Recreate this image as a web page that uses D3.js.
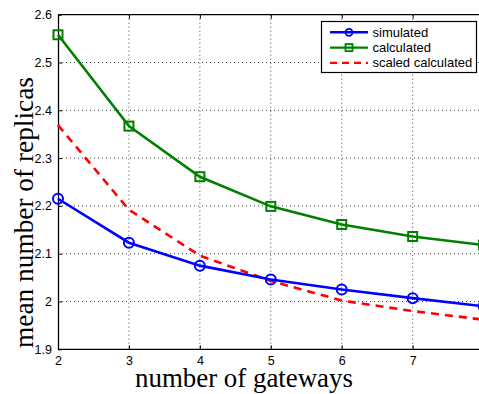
<!DOCTYPE html>
<html>
<head>
<meta charset="utf-8">
<script src="https://cdn.jsdelivr.net/npm/d3@7"></script>
<style>
  body { margin: 0; background: #fff; }
  svg { display: block; }
</style>
</head>
<body>
<svg width="479" height="394"></svg>
<script>
// number of gateways
const gateways = [2, 3, 4, 5, 6, 7, 8];
const simulated = [2.215, 2.123, 2.075, 2.046, 2.025, 2.007, 1.990];
const calculated = [2.558, 2.367, 2.261, 2.199, 2.161, 2.136, 2.118];
const scaledCalculated = [2.369, 2.192, 2.096, 2.043, 2.002, 1.980, 1.962];
const xTicks = [2, 3, 4, 5, 6, 7];
const yTicks = [1.9, 2, 2.1, 2.2, 2.3, 2.4, 2.5, 2.6];
const seriesNames = ['simulated', 'calculated', 'scaled calculated'];

const svg = d3.select('svg');
const plotL = 58, plotT = 14.7, plotB = 349.3, plotR = 483.6;

const x = d3.scaleLinear().domain([2, 8]).range([plotL, plotR]);
const y = d3.scaleLinear().domain([1.9, 2.6]).range([plotB, plotT]);

// grid (dotted, matlab style)
const grid = svg.append('g');
grid.selectAll('.gx').data(xTicks.slice(1)).enter().append('line')
  .attr('x1', d => x(d)).attr('x2', d => x(d))
  .attr('y1', plotT).attr('y2', plotB)
  .attr('stroke', '#444').attr('stroke-width', 1).attr('stroke-dasharray', '1,3');
grid.selectAll('.gy').data(yTicks.slice(1, -1)).enter().append('line')
  .attr('x1', plotL).attr('x2', 479)
  .attr('y1', d => y(d)).attr('y2', d => y(d))
  .attr('stroke', '#444').attr('stroke-width', 1).attr('stroke-dasharray', '1,3');

// axes
const xAxis = d3.axisBottom(x).tickValues(xTicks).tickSizeInner(-4).tickSizeOuter(0).tickPadding(7).tickFormat(d3.format('d'));
const yAxis = d3.axisLeft(y).tickValues(yTicks).tickSizeInner(-4).tickSizeOuter(0).tickPadding(6).tickFormat(d => String(+d.toFixed(1)));

const gx = svg.append('g').attr('transform', `translate(0,${plotB})`).call(xAxis);
const gy = svg.append('g').attr('transform', `translate(${plotL},0)`).call(yAxis);
const gt = svg.append('g').attr('transform', `translate(0,${plotT})`)
  .call(d3.axisTop(x).tickValues(xTicks).tickSizeInner(-4).tickSizeOuter(0).tickFormat(''));
[gx, gy, gt].forEach(g => {
  g.selectAll('.domain').attr('stroke', '#000').attr('stroke-width', 1.3);
  g.selectAll('text').attr('font-family', 'Liberation Sans, Arial, sans-serif').attr('font-size', 12.5).attr('fill', '#000');
});
gx.select('.domain').attr('d', `M${plotL},0H479`);
gt.select('.domain').attr('d', `M${plotL},0H479`);

// series
const line = d3.line().x((d, i) => x(gateways[i])).y(d => y(d));
svg.append('path').datum(scaledCalculated).attr('d', line)
  .attr('fill', 'none').attr('stroke', '#ff0000').attr('stroke-width', 2.6).attr('stroke-dasharray', '8,6');
svg.append('path').datum(calculated).attr('d', line)
  .attr('fill', 'none').attr('stroke', '#008000').attr('stroke-width', 2.6);
svg.append('path').datum(simulated).attr('d', line)
  .attr('fill', 'none').attr('stroke', '#0000ff').attr('stroke-width', 2.6);

svg.selectAll('.sq').data(calculated).enter().append('rect')
  .attr('x', (d, i) => x(gateways[i]) - 4.5).attr('y', d => y(d) - 4.5)
  .attr('width', 9).attr('height', 9)
  .attr('fill', 'none').attr('stroke', '#008000').attr('stroke-width', 2);
svg.selectAll('.ci').data(simulated).enter().append('circle')
  .attr('cx', (d, i) => x(gateways[i])).attr('cy', d => y(d)).attr('r', 5)
  .attr('fill', 'none').attr('stroke', '#0000ff').attr('stroke-width', 2);

// legend
const lg = svg.append('g');
lg.append('rect').attr('x', 321.5).attr('y', 21.5).attr('width', 155).attr('height', 51)
  .attr('fill', '#fff').attr('stroke', '#000').attr('stroke-width', 1.2);
const colors = ['#0000ff', '#008000', '#ff0000'];
seriesNames.forEach((name, i) => {
  const ly = 32.3 + i * 15.3;
  lg.append('line').attr('x1', 330).attr('x2', 368).attr('y1', ly).attr('y2', ly)
    .attr('stroke', colors[i]).attr('stroke-width', 2.4)
    .attr('stroke-dasharray', i === 2 ? '7,5' : null);
  if (i === 0) lg.append('circle').attr('cx', 349).attr('cy', ly).attr('r', 3.5)
    .attr('fill', 'none').attr('stroke', colors[i]).attr('stroke-width', 1.8);
  if (i === 1) lg.append('rect').attr('x', 345.5).attr('y', ly - 3.5).attr('width', 7).attr('height', 7)
    .attr('fill', 'none').attr('stroke', colors[i]).attr('stroke-width', 1.8);
  lg.append('text').attr('x', 372.5).attr('y', ly + 4.5).text(name)
    .attr('font-family', 'Liberation Sans, Arial, sans-serif').attr('font-size', 13);
});

// axis labels (sized to the width they take in the picture)
function fitText(sel, width) {
  const w = sel.node().getComputedTextLength();
  sel.attr('font-size', 25 * width / w);
}
const xl = svg.append('text').attr('x', 244).attr('y', 387).attr('text-anchor', 'middle')
  .attr('font-family', 'Liberation Serif, Times New Roman, serif').attr('font-size', 25)
  .text('number of gateways');
fitText(xl, 218);
const yl = svg.append('text').attr('transform', 'translate(33,212.5) rotate(-90)')
  .attr('text-anchor', 'middle')
  .attr('font-family', 'Liberation Serif, Times New Roman, serif').attr('font-size', 25)
  .text('mean number of replicas');
fitText(yl, 271);
</script>
</body>
</html>
